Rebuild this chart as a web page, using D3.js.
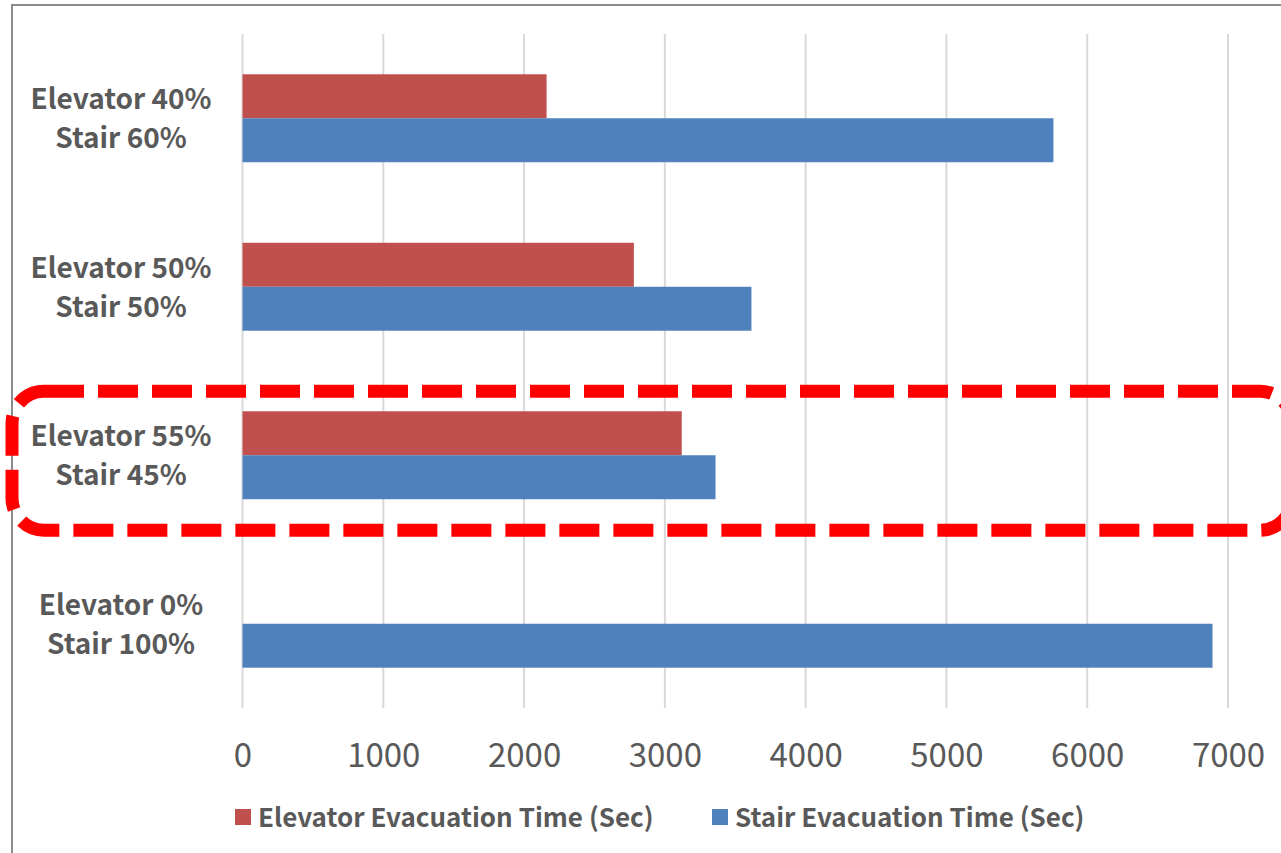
<!DOCTYPE html>
<html>
<head>
<meta charset="utf-8">
<script src="https://cdn.jsdelivr.net/npm/d3@7"></script>
<style>
  body { margin: 0; background: #fff; }
  svg text { font-family: "Noto Sans CJK KR", "Noto Sans", sans-serif; fill: #595959; }
</style>
</head>
<body>
<div id="chart"></div>
<script>
// categories, bottom to top as in the original chart
const categories = [
    ["Elevator 0%", "Stair 100%"],
    ["Elevator 55%", "Stair 45%"],
    ["Elevator 50%", "Stair 50%"],
    ["Elevator 40%", "Stair 60%"]
];
const seriesNames = ["Elevator Evacuation Time (Sec)", "Stair Evacuation Time (Sec)"];
const elevatorTimes = [0, 3120, 2780, 2160];
const stairTimes = [6890, 3360, 3615, 5760];
const xTicks = [0, 1000, 2000, 3000, 4000, 5000, 6000, 7000];
const seriesColors = ["#C0504D", "#4F81BD"];

var width = 1281, height = 853;
var plot = {left: 242.5, right: 1228, top: 34, bottom: 708};

var svg = d3.select("#chart")
    .append("svg")
    .attr("width", width)
    .attr("height", height);

// outer frame (runs off the right/bottom edge of the picture)
svg.append("rect")
    .attr("x", 12)
    .attr("y", 5)
    .attr("width", width + 20)
    .attr("height", height + 20)
    .style("fill", "none")
    .style("stroke", "#8c8c8c")
    .style("stroke-width", 2);

const x = d3.scaleLinear()
    .domain([0, 7000])
    .range([plot.left, plot.right]);

const keys = categories.map(c => c.join(" / "));
const y = d3.scaleBand()
    .domain(keys.slice().reverse())
    .range([plot.top, plot.bottom])
    .paddingInner(0.478)
    .paddingOuter(0.239);

const ySub = d3.scaleBand()
    .domain([0, 1])
    .range([0, y.bandwidth()]);

// gridlines
svg.append("g")
    .selectAll("line")
    .data(xTicks)
    .enter()
    .append("line")
    .attr("x1", d => x(d))
    .attr("x2", d => x(d))
    .attr("y1", plot.top)
    .attr("y2", plot.bottom)
    .style("stroke", "#d9d9d9")
    .style("stroke-width", 2);

// bars
const rows = categories.map((c, i) => ({key: keys[i], values: [elevatorTimes[i], stairTimes[i]]}));
var groups = svg.append("g")
    .selectAll("g")
    .data(rows)
    .enter()
    .append("g")
    .attr("transform", d => "translate(0," + y(d.key) + ")");

groups.selectAll("rect")
    .data(d => d.values.map((v, j) => ({v: v, j: j})))
    .enter()
    .append("rect")
    .attr("x", x(0))
    .attr("y", d => ySub(d.j))
    .attr("width", d => x(d.v) - x(0))
    .attr("height", ySub.bandwidth())
    .style("fill", d => seriesColors[d.j]);

// category labels, one text per line
const labelRows = [];
rows.forEach((r, i) => {
    categories[i].forEach((line, k) => labelRows.push({key: r.key, line: line, k: k}));
});
svg.append("g")
    .selectAll("text")
    .data(labelRows)
    .enter()
    .append("text")
    .attr("text-anchor", "middle")
    .attr("font-weight", "bold")
    .attr("font-size", 28)
    .attr("x", 121)
    .attr("y", d => y(d.key) + y.bandwidth() / 2 + (d.k == 0 ? -9 : 30))
    .text(d => d.line);

// x axis tick labels
svg.append("g")
    .attr("transform", "translate(0," + plot.bottom + ")")
    .call(d3.axisBottom(x).tickValues(xTicks).tickSize(0).tickPadding(0).tickFormat(d3.format("d")))
    .call(g => g.select(".domain").remove())
    .call(g => g.selectAll("text")
        .attr("dy", null)
        .attr("y", 59)
        .attr("font-size", 33)
        .attr("font-family", null)
        .style("fill", "#595959"));

// legend
const legendX = [235, 712];
var legend = svg.append("g")
    .selectAll("g")
    .data(seriesNames)
    .enter()
    .append("g")
    .attr("transform", (d, i) => "translate(" + legendX[i] + ",809)");
legend.append("rect")
    .attr("width", 16)
    .attr("height", 16)
    .style("fill", (d, i) => seriesColors[i]);
legend.append("text")
    .attr("x", 23)
    .attr("y", 18)
    .attr("font-weight", "bold")
    .attr("font-size", 26)
    .text(d => d);

// red dashed highlight around the 55% / 45% group
const hi = keys[1];
svg.append("rect")
    .attr("x", 12)
    .attr("y", y(hi) + y.bandwidth() / 2 - 64)
    .attr("width", 1280)
    .attr("height", 139)
    .attr("rx", 32)
    .style("fill", "none")
    .style("stroke", "#ff0000")
    .style("stroke-width", 13)
    .style("stroke-dasharray", "40,14");
</script>
</body>
</html>
